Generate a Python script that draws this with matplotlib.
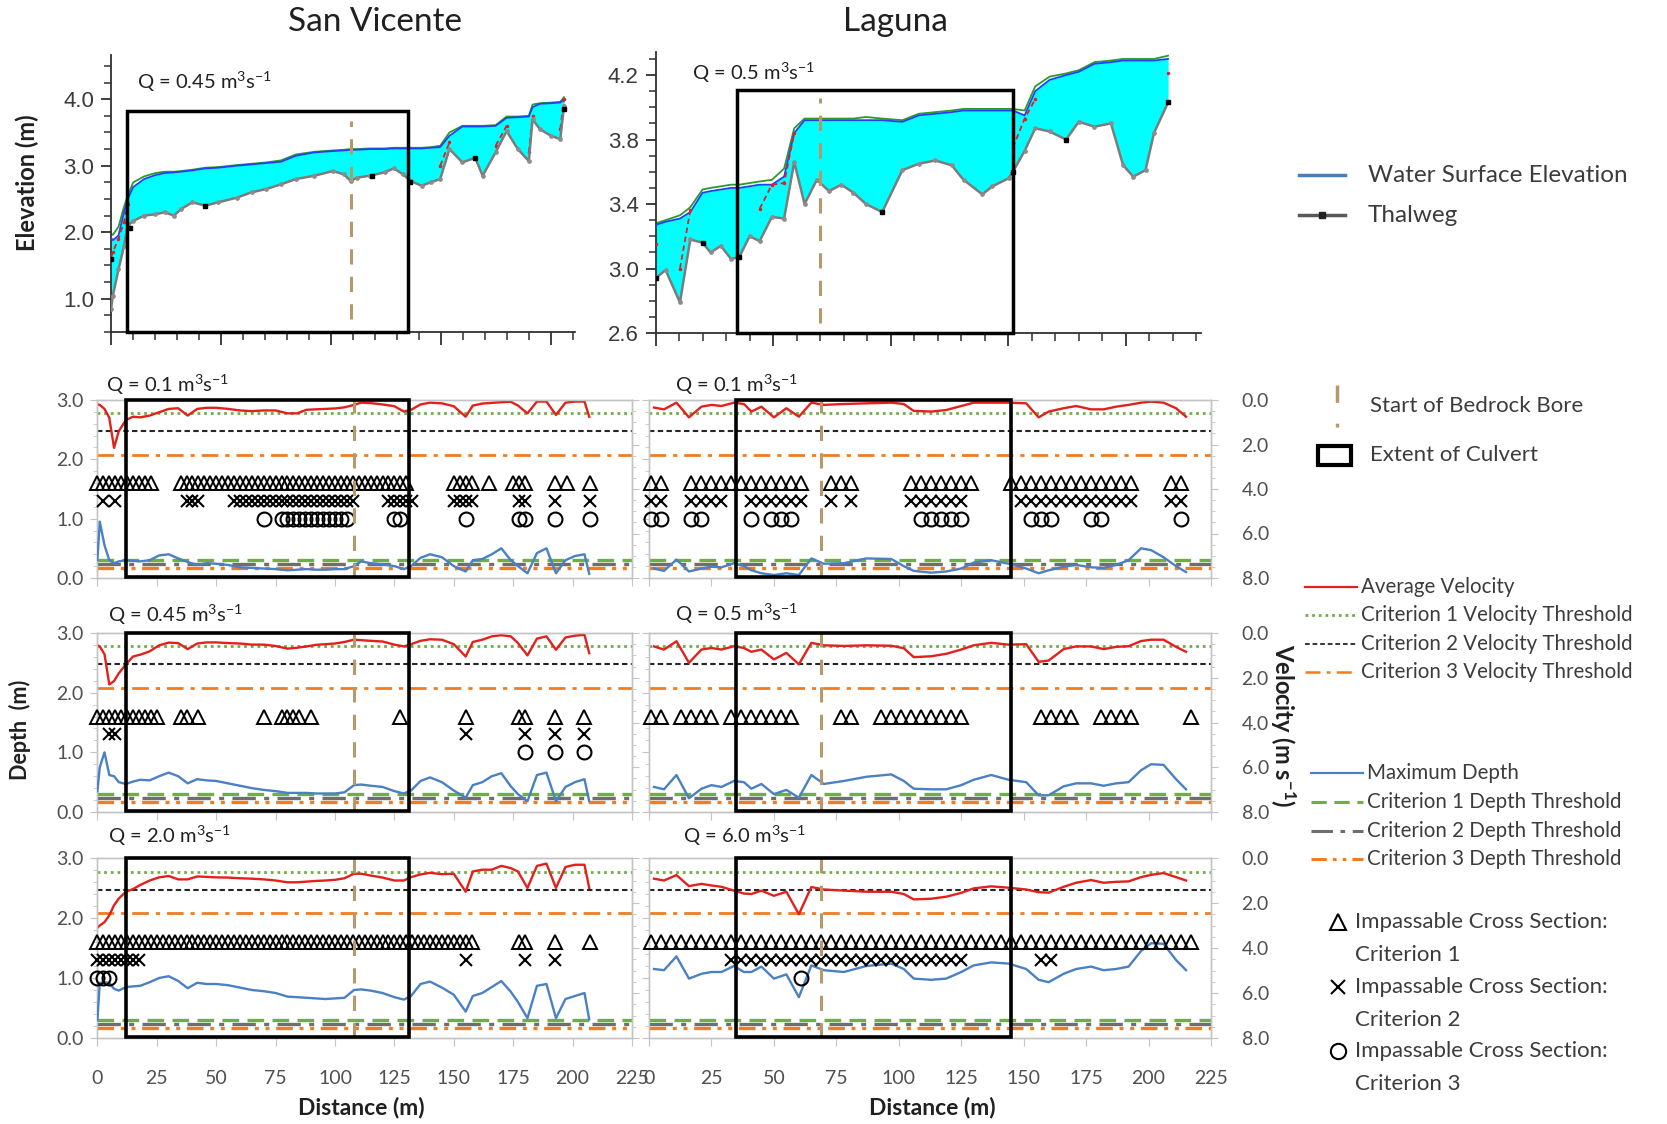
import matplotlib
matplotlib.use("Agg")
import matplotlib.pyplot as plt
from matplotlib.patches import Rectangle
from matplotlib.ticker import MultipleLocator, FormatStrFormatter

plt.rcParams['font.family'] = ['Lato', 'DejaVu Sans']
plt.rcParams['mathtext.fontset'] = 'custom'
plt.rcParams['mathtext.rm'] = 'Lato'
plt.rcParams['mathtext.it'] = 'Lato:italic'
plt.rcParams['mathtext.bf'] = 'Lato:bold'

nan = float('nan')

# ---------------- top panels: longitudinal profiles ----------------
TL_X = [0, 0.8, 3.4, 5.9, 7.6, 10.1, 15.1, 20.2, 24.4, 28.6, 31.9, 37, 42.9, 48.8, 57.2, 63.9, 70.6, 77.3, 84.1, 92.5,
        100.9, 105.9, 109, 111.8, 117.7, 124.4, 128.6, 132.8, 136.2, 141.2, 145.4, 149.7, 153.9, 159.8, 165.6, 169,
        174.9, 179.9, 185, 190, 191.7, 195, 200.1, 204.3, 206]
TL_BED = [0.84, 1.04, 1.44, 1.79, 2.1, 2.17, 2.25, 2.27, 2.3, 2.25, 2.35, 2.45, 2.4, 2.45, 2.52, 2.6, 2.65, 2.72, 2.8,
          2.85, 2.92, 2.87, 2.77, 2.82, 2.85, 2.9, 2.96, 2.87, 2.77, 2.7, 2.75, 2.8, 3.25, 3.05, 3.12, 2.85, 3.2, 3.52,
          3.25, 3.07, 3.7, 3.55, 3.45, 3.4, 3.9]
TL_WSE = [1.92, 1.88, 1.95, 2.3, 2.5, 2.68, 2.8, 2.86, 2.89, 2.9, 2.91, 2.93, 2.96, 2.97, 3.0, 3.02, 3.04, 3.06, 3.15,
          3.2, 3.22, 3.23, 3.24, 3.24, 3.25, 3.25, 3.26, 3.26, 3.26, 3.26, 3.27, 3.28, 3.45, 3.59, 3.59, 3.59, 3.6,
          3.72, 3.73, 3.74, 3.88, 3.93, 3.94, 3.95, 4.0]
TL_EGL = [1.97, 1.96, 2.08, 2.38, 2.55, 2.75, 2.84, 2.89, 2.91, 2.91, 2.92, 2.94, 2.97, 2.98, 3.01, 3.03, 3.05, 3.08,
          3.17, 3.21, 3.23, 3.24, 3.25, 3.25, 3.26, 3.26, 3.27, 3.27, 3.27, 3.27, 3.28, 3.3, 3.5, 3.6, 3.6, 3.6, 3.61,
          3.74, 3.74, 3.75, 3.92, 3.94, 3.95, 3.96, 4.03]
TL_CRIT = [1.62, 1.7, 1.9, 2.15, 2.42, nan, nan, nan, nan, nan, nan, nan, nan, nan, nan, nan, nan, nan, nan, nan,
           nan, nan, nan, nan, nan, nan, nan, nan, nan, nan, nan, 3.0, 3.35, nan, nan, nan, 3.3, 3.6, nan, 3.2, 3.75,
           nan, nan, 3.55, 4.0]
TL_DOT_X = [0, 8.7, 42.9, 118.5, 136, 165.6, 206]
TL_DOT_Y = [1.6, 2.07, 2.4, 2.85, 2.75, 3.12, 3.85]
TL_CULVERT = [7.5, 135.0]
TL_CULVERT_TOP = 3.83
TL_BORE = 109
TL_BORE_Y = [0.69, 3.67]

TR_X = [0, 4.3, 10.4, 14.8, 20, 23.4, 27.8, 32.1, 35.6, 40, 44.3, 49.5, 54.7, 59, 63.4, 68.6, 73.8, 79, 84.2, 89.5,
        96.4, 105, 112, 119, 126, 131, 139, 143.3, 150.2, 152, 157, 161.5, 167.6, 174.6, 180, 186.7, 193.7, 198.9,
        203.2, 208.4, 212, 218]
TR_BED = [2.94, 2.99, 2.79, 3.18, 3.16, 3.1, 3.14, 3.06, 3.07, 3.2, 3.17, 3.32, 3.31, 3.66, 3.4, 3.55, 3.48, 3.52,
          3.47, 3.4, 3.35, 3.61, 3.65, 3.67, 3.64, 3.55, 3.46, 3.51, 3.56, 3.6, 3.73, 3.87, 3.85, 3.8, 3.91, 3.88,
          3.9, 3.64, 3.57, 3.61, 3.84, 4.03]
TR_WSE = [3.27, 3.29, 3.31, 3.35, 3.47, 3.48, 3.49, 3.5, 3.5, 3.51, 3.52, 3.52, 3.57, 3.84, 3.92, 3.92, 3.92, 3.92,
          3.92, 3.92, 3.92, 3.91, 3.95, 3.96, 3.97, 3.98, 3.98, 3.98, 3.98, 3.98, 3.95, 4.1, 4.17, 4.2, 4.22, 4.27,
          4.28, 4.29, 4.29, 4.29, 4.29, 4.3]
TR_EGL = [3.28, 3.3, 3.33, 3.38, 3.49, 3.5, 3.51, 3.52, 3.52, 3.53, 3.54, 3.55, 3.62, 3.87, 3.93, 3.93, 3.93, 3.93,
          3.93, 3.94, 3.93, 3.92, 3.96, 3.97, 3.98, 3.99, 3.99, 3.99, 3.99, 3.99, 3.98, 4.13, 4.19, 4.21, 4.23, 4.28,
          4.29, 4.3, 4.3, 4.3, 4.3, 4.32]
TR_CRIT = [3.15, nan, 3.0, 3.36, nan, nan, nan, nan, nan, nan, 3.37, 3.52, 3.53, 3.84, nan, nan, nan, nan, nan, nan,
           nan, nan, nan, nan, nan, nan, nan, nan, nan, 3.75, 3.93, 4.05, nan, nan, nan, nan, nan, nan, nan, nan,
           nan, 4.21]
TR_DOT_X = [0, 20, 35.6, 96.4, 152, 174.6, 218]
TR_DOT_Y = [2.94, 3.16, 3.07, 3.35, 3.6, 3.8, 4.03]
TR_CULVERT = [34.7, 152.0]
TR_CULVERT_TOP = 4.11
TR_BORE = 70
TR_BORE_Y = [2.66, 4.06]

# ---------------- depth / velocity panels ----------------
SV_LX = [0, 1, 3, 5, 7, 9, 12, 15, 18, 22, 26, 30, 34, 38, 42, 46, 50, 55, 60, 65, 70, 75, 80, 84, 88, 92, 96, 100,
         104, 108, 111, 115, 120, 125, 129, 132, 136, 140, 145, 150, 155, 158, 162, 166, 170, 174, 177, 181, 185,
         189, 193, 197, 201, 205, 207]
SV_V1 = [0.2, 0.22, 0.4, 0.8, 2.15, 1.4, 0.9, 0.75, 0.78, 0.7, 0.55, 0.4, 0.37, 0.7, 0.4, 0.35, 0.35, 0.4, 0.47, 0.5,
         0.47, 0.47, 0.6, 0.6, 0.44, 0.42, 0.4, 0.38, 0.33, 0.22, 0.12, 0.14, 0.2, 0.28, 0.52, 0.44, 0.2, 0.12, 0.15,
         0.28, 0.75, 0.25, 0.16, 0.13, 0.1, 0.08, 0.25, 0.6, 0.07, 0.07, 0.67, 0.12, 0.07, 0.07, 0.75]
SV_D1 = [0.3, 0.95, 0.55, 0.3, 0.25, 0.28, 0.3, 0.29, 0.28, 0.3, 0.38, 0.4, 0.33, 0.27, 0.22, 0.25, 0.24, 0.22, 0.18,
         0.17, 0.16, 0.15, 0.13, 0.14, 0.15, 0.14, 0.14, 0.15, 0.15, 0.2, 0.28, 0.25, 0.23, 0.2, 0.15, 0.2, 0.34, 0.4,
         0.35, 0.2, 0.11, 0.3, 0.32, 0.4, 0.5, 0.3, 0.2, 0.08, 0.42, 0.5, 0.08, 0.3, 0.37, 0.4, 0.07]
SV_V2 = [0.55, 0.6, 0.95, 2.3, 2.15, 1.8, 1.4, 1.05, 0.97, 0.82, 0.55, 0.43, 0.45, 0.72, 0.47, 0.42, 0.42, 0.45, 0.47,
         0.52, 0.52, 0.58, 0.7, 0.66, 0.6, 0.53, 0.5, 0.47, 0.4, 0.3, 0.32, 0.35, 0.38, 0.52, 0.6, 0.5, 0.35, 0.28,
         0.3, 0.5, 1.05, 0.4, 0.3, 0.15, 0.1, 0.15, 0.45, 1.0, 0.25, 0.15, 0.75, 0.2, 0.12, 0.08, 0.9]
SV_D2 = [0.35, 0.75, 1.0, 0.62, 0.6, 0.5, 0.47, 0.51, 0.54, 0.53, 0.6, 0.66, 0.6, 0.48, 0.55, 0.53, 0.52, 0.48, 0.44,
         0.4, 0.37, 0.35, 0.32, 0.32, 0.32, 0.31, 0.31, 0.31, 0.33, 0.45, 0.46, 0.44, 0.42, 0.35, 0.31, 0.36, 0.52,
         0.58, 0.5, 0.36, 0.24, 0.45, 0.5, 0.6, 0.65, 0.43, 0.3, 0.18, 0.62, 0.66, 0.18, 0.42, 0.5, 0.55, 0.18]
SV_V3 = [3.1, 3.0, 2.85, 2.55, 2.1, 1.8, 1.5, 1.38, 1.2, 1.0, 0.86, 0.8, 0.95, 0.95, 0.82, 0.84, 0.86, 0.87, 0.9, 0.92,
         0.95, 1.0, 1.08, 1.08, 1.05, 1.02, 1.0, 0.97, 0.9, 0.7, 0.7, 0.78, 0.87, 1.0, 1.0, 0.85, 0.73, 0.66, 0.72,
         0.7, 1.5, 0.6, 0.52, 0.52, 0.35, 0.45, 0.6, 1.33, 0.35, 0.25, 1.33, 0.4, 0.3, 0.3, 1.33]
SV_D3 = [0.3, 0.92, 0.93, 0.92, 0.82, 0.79, 0.85, 0.86, 0.87, 0.93, 1.0, 1.03, 0.95, 0.83, 0.92, 0.9, 0.9, 0.88, 0.84,
         0.8, 0.78, 0.75, 0.69, 0.68, 0.67, 0.66, 0.65, 0.66, 0.67, 0.8, 0.81, 0.79, 0.75, 0.68, 0.64, 0.7, 0.9, 0.94,
         0.84, 0.72, 0.44, 0.7, 0.75, 0.85, 0.95, 0.77, 0.6, 0.33, 0.87, 0.9, 0.33, 0.65, 0.7, 0.75, 0.31]

LG_LX = [2, 6, 11, 16, 21, 25, 29, 34, 38, 41, 45, 50, 55, 60, 65, 70, 78, 87, 97, 102, 106, 113, 119, 125, 130, 137,
         144, 151, 156, 160, 166, 171, 177, 182, 187, 192, 197, 201, 206, 211, 215]
LG_V1 = [0.34, 0.42, 0.12, 0.78, 0.3, 0.22, 0.27, 0.12, 0.18, 0.52, 0.3, 0.78, 0.37, 0.75, 0.12, 0.22, 0.18, 0.15,
         0.12, 0.18, 0.49, 0.52, 0.45, 0.27, 0.12, 0.12, 0.12, 0.15, 0.78, 0.52, 0.37, 0.27, 0.42, 0.42, 0.3, 0.22,
         0.12, 0.07, 0.12, 0.37, 0.75]
LG_D1 = [0.16, 0.12, 0.31, 0.11, 0.16, 0.19, 0.18, 0.25, 0.2, 0.13, 0.08, 0.05, 0.08, 0.05, 0.33, 0.24, 0.25, 0.33,
         0.32, 0.2, 0.12, 0.09, 0.11, 0.16, 0.26, 0.3, 0.24, 0.16, 0.08, 0.13, 0.19, 0.22, 0.18, 0.17, 0.22, 0.3, 0.5,
         0.47, 0.35, 0.2, 0.1]
LG_V2 = [0.6, 0.74, 0.37, 1.33, 0.74, 0.67, 0.74, 0.59, 0.67, 0.84, 0.74, 1.18, 0.89, 1.4, 0.44, 0.55, 0.58, 0.55,
         0.57, 0.68, 1.08, 1.04, 0.93, 0.74, 0.55, 0.44, 0.52, 0.5, 1.29, 1.23, 0.72, 0.6, 0.6, 0.72, 0.62, 0.59,
         0.36, 0.3, 0.3, 0.62, 0.84]
LG_D2 = [0.42, 0.38, 0.62, 0.23, 0.39, 0.45, 0.42, 0.52, 0.5, 0.39, 0.47, 0.3, 0.37, 0.24, 0.62, 0.47, 0.52, 0.59,
         0.63, 0.52, 0.39, 0.38, 0.38, 0.45, 0.54, 0.62, 0.54, 0.5, 0.28, 0.28, 0.43, 0.48, 0.48, 0.44, 0.48, 0.5,
         0.7, 0.8, 0.79, 0.55, 0.38]
LG_V3 = [0.92, 1.0, 0.76, 1.25, 1.15, 1.22, 1.28, 1.45, 1.58, 1.6, 1.45, 1.68, 1.5, 2.5, 1.29, 1.4, 1.45, 1.5, 1.5,
         1.6, 1.84, 1.81, 1.72, 1.55, 1.35, 1.26, 1.32, 1.4, 1.52, 1.54, 1.28, 1.1, 0.98, 1.1, 1.06, 1.04, 0.85,
         0.75, 0.67, 0.85, 1.0]
LG_D3 = [1.15, 1.13, 1.36, 0.99, 1.07, 1.1, 1.1, 1.2, 1.1, 1.1, 1.19, 0.99, 1.06, 0.68, 1.21, 1.13, 1.1, 1.2, 1.24,
         1.15, 0.99, 0.97, 0.99, 1.1, 1.21, 1.26, 1.24, 1.15, 0.97, 0.93, 1.07, 1.15, 1.19, 1.13, 1.15, 1.19, 1.45,
         1.58, 1.57, 1.3, 1.13]

# cross-section stations and impassable flags (1 = impassable)
SV_SEC = [0, 2.5, 5, 7.5, 10, 12.5, 15, 17.5, 20, 22.5, 25, 27.5, 30, 32.5, 35, 37.5, 40, 42.5, 45, 47.5, 50, 52.5,
          55, 57.5, 60, 62.5, 65, 67.5, 70, 72.5, 75, 77.5, 80, 82.5, 85, 87.5, 90, 92.5, 95, 97.5, 100, 102.5, 105,
          107.5, 110, 112.5, 115, 117.5, 120, 122.5, 125, 127.5, 130, 132.5, 135, 137.5, 140, 142.5, 145, 147.5, 150,
          152.5, 155, 157.5, 160, 162.5, 165, 167.5, 170, 172.5, 175, 177.5, 180, 182.5, 185, 187.5, 190, 192.5, 195,
          197.5, 200, 202.5, 205, 207.5]
LG_SEC = [1, 5, 9, 13, 17, 21, 25, 29, 33, 37, 41, 45, 49, 53, 57, 61, 65, 69, 73, 77, 81, 85, 89, 93, 97, 101, 105,
          109, 113, 117, 121, 125, 129, 133, 137, 141, 145, 149, 153, 157, 161, 165, 169, 173, 177, 181, 185, 189, 193,
          197, 201, 205, 209, 213, 217]

SV1_TRI = "1111111111" "0000111111" "1111111111" "1111111111" "1111111111" "1110000000" "1111001000" "1110000101" "0001"
SV1_X = "0101000000" "0000011100" "0001111111" "1111111111" "1111000001" "1111000000" "1111000000" "0110000100" "0001"
SV1_O = "0000000000" "0000000000" "0000000010" "0111111111" "1110000000" "1100000000" "0010000000" "0110000100" "0001"
SV2_TRI = "1111111111" "1000110100" "0000000010" "0111101000" "0000000000" "0100000000" "0010000000" "0110000100" "0010"
SV2_X = "0011000000" "0000000000" "0000000000" "0000000000" "0000000000" "0000000000" "0010000000" "0010000100" "0010"
SV2_O = "0000000000" "0000000000" "0000000000" "0000000000" "0000000000" "0000000000" "0000000000" "0010000100" "0010"
SV3_TRI = "1111111111" "1111111111" "1111111111" "1111111111" "1111111111" "1111111111" "1111000000" "0110000100" "0001"
SV3_X = "1111111100" "0000000000" "0000000000" "0000000000" "0000000000" "0000000000" "0010000000" "0010000100" "0000"
SV3_O = "1110000000" "0000000000" "0000000000" "0000000000" "0000000000" "0000000000" "0000000000" "0000000000" "0000"

LG1_TRI = "1100111111" "1111110011" "1000001111" "1110001111" "1111111110" "00110"
LG1_X = "1100111100" "1111110010" "1000001111" "1100000111" "1111111110" "00110"
LG1_O = "1100110000" "1011100000" "0000000111" "1100000011" "1000110000" "00010"
LG2_TRI = "1101111011" "1111100001" "1001111111" "1100000001" "1110011110" "00001"
LG2_X = "0000000000" "0000000000" "0000000000" "0000000000" "0000000000" "00000"
LG2_O = "0000000000" "0000000000" "0000000000" "0000000000" "0000000000" "00000"
LG3_TRI = "1111111111" "1111111111" "1111111111" "1111111111" "1111111111" "11111"
LG3_X = "0000000011" "1111111111" "1111111111" "1100000001" "1000000000" "00000"
LG3_O = "0000000000" "0000010000" "0000000000" "0000000000" "0000000000" "00000"

SV_CULVERT = [12.2, 131.3]
SV_BORE = 108
LG_CULVERT = [35.0, 145.0]
LG_BORE = 69
VEL_THRESH = [0.6, 1.4, 2.45]     # m/s (criterion 1, 2, 3)
DEPTH_THRESH = [0.3, 0.24, 0.17]  # m   (criterion 1, 2, 3)
Q_LABELS = ["0.1", "0.45", "2.0", "0.1", "0.5", "6.0"]

# ---------------- styling ----------------
RED = '#e3211c'
BLUE = '#4a80c4'
GREEN = '#70ad47'
DARK = '#262626'
ORANGE = '#f07d22'
GRAY = '#6e6e6e'
BORE_C = '#b5996c'
FRAME = '#c4c4c4'
TXT = '#3c3c3c'
LS_V1 = (0, (1, 1.4))
LS_V2 = (0, (2.6, 1.6))
LS_V3 = (0, (6, 2.5, 1.5, 2.5))
LS_D1 = (0, (5, 2.5))
LS_D2 = (0, (7, 2.5, 1.5, 2.5))
LS_D3 = (0, (5, 2, 1.2, 2, 1.2, 2))
LS_BORE = (0, (5, 4))

W, H = 1667, 1124
fig = plt.figure(figsize=(W / 100, H / 100), dpi=100)


def rect(l, t, r, b):
    return [l / W, 1 - b / H, (r - l) / W, (b - t) / H]


def ftext(x, y, s, **kw):
    fig.text(x / W, 1 - y / H, s, **kw)


def qtext(q):
    return r'Q = ' + q + r' m$^{3}$s$^{-1}$'


def elev_panel(pos, X, BED, WSE, EGL, CRIT, DX, DY, xlim, ylim, ymaj, ymin, culv, culv_top, bore, bore_y):
    ax = fig.add_axes(pos)
    ax.fill_between(X, BED, WSE, color='#00ffff', lw=0, zorder=1)
    ax.plot(X, EGL, color='#2a9a2a', lw=1.3, zorder=2)
    ax.plot(X, WSE, color='#2040ff', lw=1.3, zorder=3)
    ax.plot(X, CRIT, color='#e02020', lw=1.3, ls=(0, (3, 2)), marker='.', ms=3, zorder=4)
    ax.plot(X, BED, color='#7c7c7c', lw=1.8, marker='o', ms=2.4, mfc='#8c8c8c', mec='#8c8c8c', zorder=4)
    ax.plot(DX, DY, 's', color='black', ms=3.5, zorder=5)
    ax.add_patch(Rectangle((culv[0], ylim[0]), culv[1] - culv[0], culv_top - ylim[0], fill=False, ec='black',
                           lw=2.5, zorder=6, clip_on=False))
    ax.plot([bore, bore], bore_y, color=BORE_C, lw=2.2, ls=LS_BORE, zorder=6)
    ax.set_xlim(*xlim)
    ax.set_ylim(*ylim)
    for s in ['top', 'right']:
        ax.spines[s].set_visible(False)
    for s in ['left', 'bottom']:
        ax.spines[s].set_color('#303030')
        ax.spines[s].set_linewidth(1.3)
    ax.xaxis.set_major_locator(MultipleLocator(50))
    ax.xaxis.set_minor_locator(MultipleLocator(10))
    ax.set_yticks(ymaj, labels=['%.1f' % v for v in ymaj], fontfamily='Liberation Sans', fontsize=16,
                  color='#3a3a3a')
    ax.yaxis.set_minor_locator(MultipleLocator(ymin))
    ax.tick_params(axis='x', which='major', length=9, width=1.3, color='#303030', labelbottom=False)
    ax.tick_params(axis='x', which='minor', length=6, width=1.1, color='#303030')
    ax.tick_params(axis='y', which='major', length=7, width=1.3, color='#303030', pad=5)
    ax.tick_params(axis='y', which='minor', length=5, width=1.1, color='#303030')
    return ax


def flagged(sec, flags):
    return [s for s, f in zip(sec, flags) if f == '1']


def depth_panel(pos, LX, V, D, SEC, TRI, XF, OF, culv, bore, left_col, bottom_row):
    ax = fig.add_axes(pos)
    ax2 = ax.twinx()
    ax.set_zorder(ax2.get_zorder() + 1)
    ax.patch.set_visible(False)
    ax.set_xlim(0, 225)
    ax.set_ylim(0, 3)
    ax2.set_ylim(8, 0)

    ax2.axhline(VEL_THRESH[0], color=GREEN, lw=2.0, ls=LS_V1, zorder=1)
    ax2.axhline(VEL_THRESH[1], color=DARK, lw=1.5, ls=LS_V2, zorder=1)
    ax2.axhline(VEL_THRESH[2], color=ORANGE, lw=2.0, ls=LS_V3, zorder=1)
    ax2.plot(LX, V, color=RED, lw=1.7, zorder=3)

    ax.axhline(DEPTH_THRESH[0], color=GREEN, lw=2.4, ls=LS_D1, zorder=1)
    ax.axhline(DEPTH_THRESH[1], color=GRAY, lw=2.4, ls=LS_D2, zorder=1)
    ax.axhline(DEPTH_THRESH[2], color=ORANGE, lw=2.4, ls=LS_D3, zorder=1)
    ax.plot(LX, D, color=BLUE, lw=1.7, zorder=3)

    xt = flagged(SEC, TRI)
    ax.plot(xt, [1.6] * len(xt), ls='none', marker='^', ms=10.5, mfc='none', mec='black', mew=1.4,
            clip_on=False, zorder=5)
    xx = flagged(SEC, XF)
    ax.plot(xx, [1.3] * len(xx), ls='none', marker='x', ms=9, mec='black', mew=1.5, clip_on=False, zorder=5)
    xo = flagged(SEC, OF)
    ax.plot(xo, [1.0] * len(xo), ls='none', marker='o', ms=10, mfc='none', mec='black', mew=1.5,
            clip_on=False, zorder=5)

    ax.add_patch(Rectangle((culv[0], 0.02), culv[1] - culv[0], 2.98, fill=False, ec='black', lw=2.6,
                           zorder=8, clip_on=False))
    ax.plot([bore, bore], [0, 3], color=BORE_C, lw=2.2, ls=LS_BORE, zorder=7)

    for a in (ax, ax2):
        for s in a.spines.values():
            s.set_color(FRAME)
            s.set_linewidth(1.0)
    ax.xaxis.set_major_locator(MultipleLocator(25))
    ax.yaxis.set_major_locator(MultipleLocator(1))
    ax.yaxis.set_minor_locator(MultipleLocator(0.2))
    ax.yaxis.set_major_formatter(FormatStrFormatter('%.1f'))
    ax2.yaxis.set_major_locator(MultipleLocator(2))
    ax2.yaxis.set_minor_locator(MultipleLocator(0.5))
    ax2.yaxis.set_major_formatter(FormatStrFormatter('%.1f'))
    ax.tick_params(axis='x', which='major', length=6, color=FRAME, direction='out', labelbottom=bottom_row,
                   labelsize=14, labelcolor='#505050', pad=17)
    ax.tick_params(axis='y', which='major', length=5, color=FRAME, labelleft=left_col, labelsize=14,
                   labelcolor='#505050', pad=5)
    ax.tick_params(axis='y', which='minor', length=3, color=FRAME)
    ax2.tick_params(axis='y', which='major', length=5, color=FRAME, labelright=not left_col, labelsize=14,
                    labelcolor='#505050', pad=17)
    ax2.tick_params(axis='y', which='minor', length=3, color=FRAME)
    return ax


# ---------------- draw ----------------
elev_panel(rect(111, 55, 575, 332), TL_X, TL_BED, TL_WSE, TL_EGL, TL_CRIT, TL_DOT_X, TL_DOT_Y,
           (0, 211), (0.5, 4.665), [1.0, 2.0, 3.0, 4.0], 0.25, TL_CULVERT, TL_CULVERT_TOP, TL_BORE, TL_BORE_Y)
elev_panel(rect(655.5, 52, 1201, 333), TR_X, TR_BED, TR_WSE, TR_EGL, TR_CRIT, TR_DOT_X, TR_DOT_Y,
           (0, 232), (2.6, 4.343), [2.6, 3.0, 3.4, 3.8, 4.2], 0.1, TR_CULVERT, TR_CULVERT_TOP, TR_BORE, TR_BORE_Y)

rows = [(400, 578), (633, 812), (858, 1038)]
sv_series = [(SV_V1, SV_D1, SV1_TRI, SV1_X, SV1_O), (SV_V2, SV_D2, SV2_TRI, SV2_X, SV2_O),
             (SV_V3, SV_D3, SV3_TRI, SV3_X, SV3_O)]
lg_series = [(LG_V1, LG_D1, LG1_TRI, LG1_X, LG1_O), (LG_V2, LG_D2, LG2_TRI, LG2_X, LG2_O),
             (LG_V3, LG_D3, LG3_TRI, LG3_X, LG3_O)]
for k, (t, b) in enumerate(rows):
    V, D, TR_, XF, OF = sv_series[k]
    depth_panel(rect(97.4, t, 632, b), SV_LX, V, D, SV_SEC, TR_, XF, OF, SV_CULVERT, SV_BORE, True, k == 2)
    V, D, TR_, XF, OF = lg_series[k]
    depth_panel(rect(649, t, 1211, b), LG_LX, V, D, LG_SEC, TR_, XF, OF, LG_CULVERT, LG_BORE, False, k == 2)

# Q labels
QFS = 14.5
ftext(137, 82, qtext("0.45"), fontsize=QFS, va='center', color='#202020')
ftext(692, 73, qtext("0.5"), fontsize=QFS, va='center', color='#202020')
q_left_pos = [(106, 385), (108, 615), (108, 836)]
q_right_pos = [(675, 385), (675, 614), (683, 836)]
for k in range(3):
    ftext(*q_left_pos[k], qtext(Q_LABELS[k]), fontsize=QFS, va='center', color='#202020')
    ftext(*q_right_pos[k], qtext(Q_LABELS[k + 3]), fontsize=QFS, va='center', color='#202020')

# titles and axis labels
ftext(375, 22, 'San Vicente', fontsize=24, ha='center', va='center', color='#202020')
ftext(895, 22, 'Laguna', fontsize=24, ha='center', va='center', color='#202020')
ftext(27, 183, 'Elevation (m)', fontsize=17, fontweight='bold', rotation=90, ha='center', va='center',
      color='#202020')
ftext(20, 730, 'Depth  (m)', fontsize=15.5, fontweight='bold', rotation=90, ha='center', va='center',
      color='#202020')
ftext(361, 1108, 'Distance (m)', fontsize=16.5, fontweight='bold', ha='center', va='center', color='#202020')
ftext(932, 1108, 'Distance (m)', fontsize=16.5, fontweight='bold', ha='center', va='center', color='#202020')
ftext(1283, 725, r'Velocity (m s$^{\mathbf{-1}}$)', fontsize=17, fontweight='bold', rotation=270, ha='center',
      va='center', color='#202020')

# legend (overlay in pixel coordinates)
lg = fig.add_axes([0, 0, 1, 1], zorder=10)
lg.set_xlim(0, W)
lg.set_ylim(H, 0)
lg.axis('off')
lg.plot([1299, 1345], [175, 175], color='#4a7ebb', lw=2.5)
lg.text(1368, 175, 'Water Surface Elevation', fontsize=17.5, va='center', color=TXT)
lg.plot([1299, 1345], [215, 215], color='#595959', lw=2.5)
lg.plot([1322], [215], 's', color='#222222', ms=5)
lg.text(1368, 215, 'Thalweg', fontsize=17.5, va='center', color=TXT)

lg.plot([1337, 1337], [385, 427], color=BORE_C, lw=2.5, ls=(0, (5, 6)))
lg.text(1370, 406, 'Start of Bedrock Bore', fontsize=16, va='center', color=TXT)
lg.add_patch(Rectangle((1318, 446), 33, 19, fill=False, ec='black', lw=3))
lg.text(1370, 455, 'Extent of Culvert', fontsize=16, va='center', color=TXT)

vel_items = [('Average Velocity', RED, '-', 1.6), ('Criterion 1 Velocity Threshold', GREEN, LS_V1, 2.0),
             ('Criterion 2 Velocity Threshold', DARK, LS_V2, 1.3), ('Criterion 3 Velocity Threshold', ORANGE, LS_V3, 1.8)]
for (lab, c, ls, lw), y in zip(vel_items, [587, 615, 644, 672]):
    lg.plot([1305, 1357], [y, y], color=c, ls=ls, lw=lw)
    lg.text(1361, y, lab, fontsize=14.8, va='center', color=TXT)
dep_items = [('Maximum Depth', BLUE, '-', 1.6), ('Criterion 1 Depth Threshold', GREEN, LS_D1, 2.2),
             ('Criterion 2 Depth Threshold', GRAY, LS_D2, 2.2), ('Criterion 3 Depth Threshold', ORANGE, LS_D3, 2.2)]
for (lab, c, ls, lw), y in zip(dep_items, [773, 802, 831, 859]):
    lg.plot([1311, 1363], [y, y], color=c, ls=ls, lw=lw)
    lg.text(1367, y, lab, fontsize=14.8, va='center', color=TXT)

mk_items = [('^', 922, 'Criterion 1'), ('x', 987, 'Criterion 2'), ('o', 1051, 'Criterion 3')]
for m, y, lab in mk_items:
    lg.plot([1338], [y], ls='none', marker=m, ms=11 if m != 'x' else 10, mfc='none', mec='black', mew=1.5)
    lg.text(1355, y, 'Impassable Cross Section:', fontsize=16, va='center', color=TXT)
    lg.text(1355, y + 33, lab, fontsize=16, va='center', color=TXT)

fig.savefig('out.png', dpi=100)
